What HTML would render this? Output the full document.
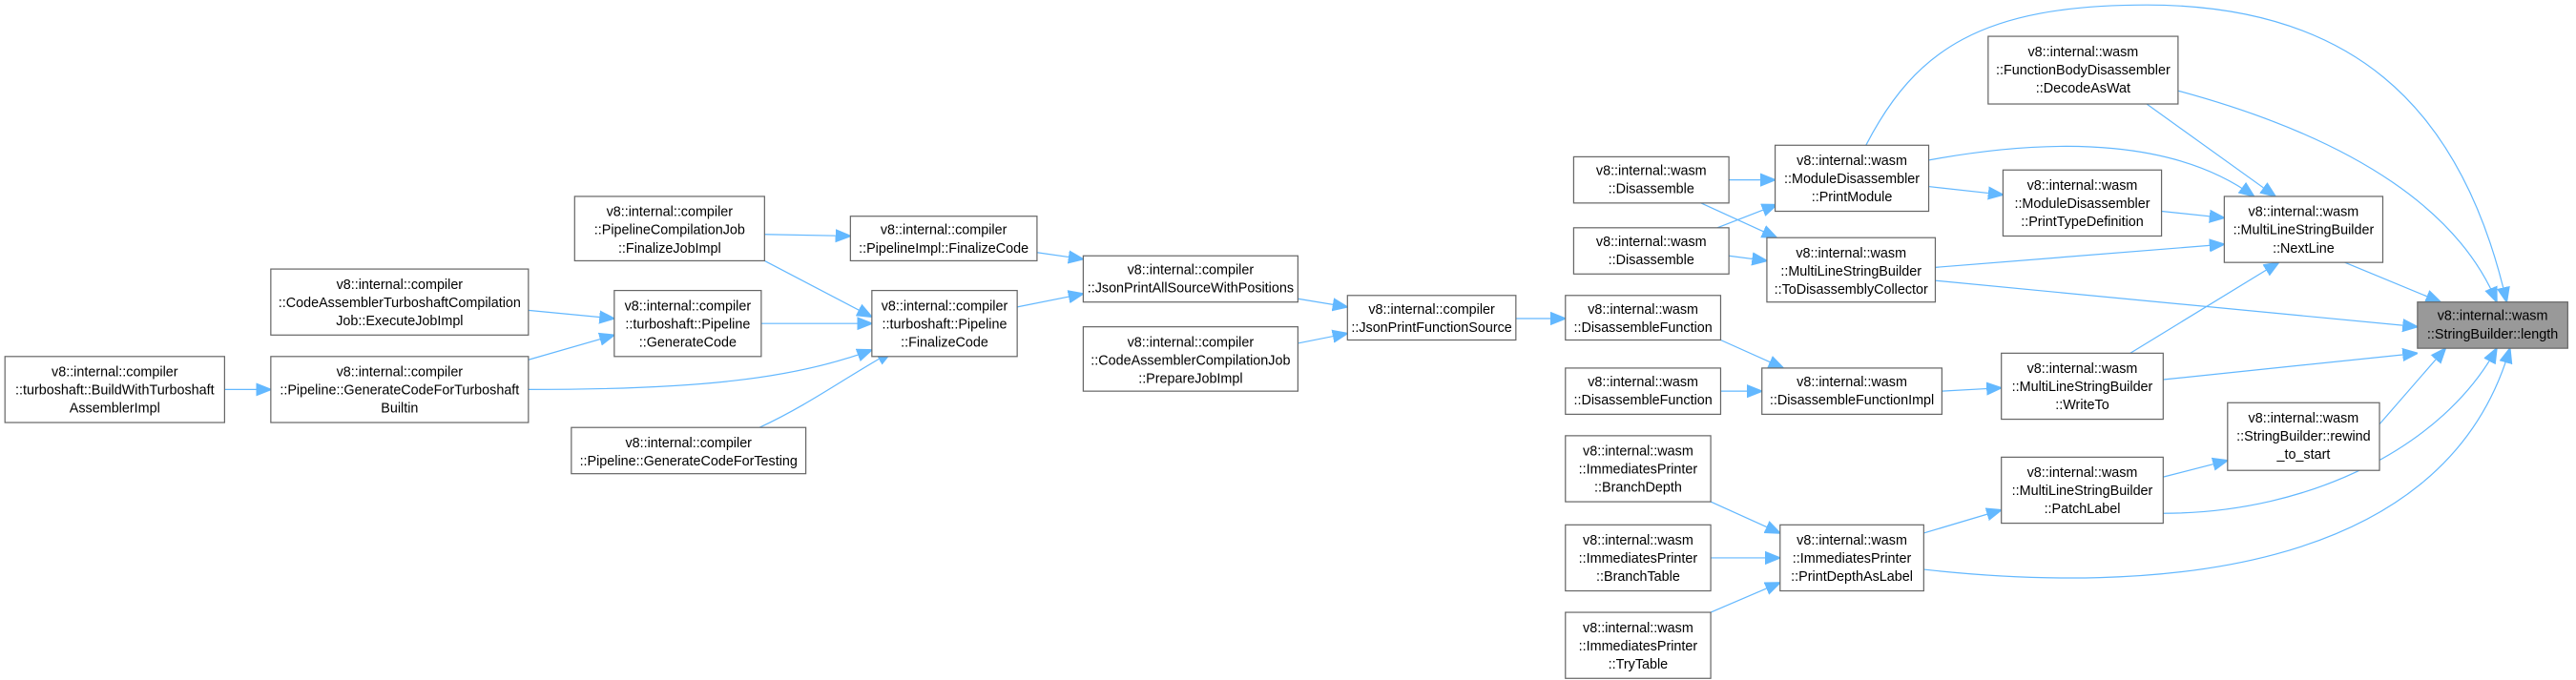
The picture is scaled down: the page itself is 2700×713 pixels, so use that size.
<!DOCTYPE html>
<html><head><meta charset="utf-8"><style>
html,body{margin:0;padding:0;background:#fff}
svg{display:block}
text{font-family:"Liberation Sans",sans-serif;font-size:8.3px;fill:#000}
.b{fill:#fff;stroke:#666;stroke-width:0.7}
.e{fill:none;stroke:#63b8ff;stroke-width:0.7}
</style></head><body>
<svg width="2700" height="713" viewBox="0 0 1560 412" preserveAspectRatio="none" xmlns="http://www.w3.org/2000/svg">
<defs><marker id="a" viewBox="0 0 10 10" refX="10" refY="5" markerWidth="9" markerHeight="9" markerUnits="userSpaceOnUse" orient="auto"><path d="M0,1 L10,5 L0,9 z" fill="#63b8ff" stroke="#63b8ff"/></marker></defs>
<g class="edges">
<path class="e" marker-end="url(#a)" d="M136,236 L164,236"/>
<path class="e" marker-end="url(#a)" d="M320,188 L372,193"/>
<path class="e" marker-end="url(#a)" d="M320,218 L372,203"/>
<path class="e" marker-end="url(#a)" d="M320,236 C420,236 480,230 528,212"/>
<path class="e" marker-end="url(#a)" d="M463,142 L515,143"/>
<path class="e" marker-end="url(#a)" d="M463,158 L528,192"/>
<path class="e" marker-end="url(#a)" d="M461,196 L528,196"/>
<path class="e" marker-end="url(#a)" d="M460,259 C490,245 510,230 540,213"/>
<path class="e" marker-end="url(#a)" d="M628,153 L656,157"/>
<path class="e" marker-end="url(#a)" d="M616,186 L656,178"/>
<path class="e" marker-end="url(#a)" d="M786,181 L816,186"/>
<path class="e" marker-end="url(#a)" d="M786,208 L816,202"/>
<path class="e" marker-end="url(#a)" d="M918,193 L948,193"/>
<path class="e" marker-end="url(#a)" d="M1042,206 L1080,223"/>
<path class="e" marker-end="url(#a)" d="M1042,237 L1067,237"/>
<path class="e" marker-end="url(#a)" d="M1047,109 L1075,109"/>
<path class="e" marker-end="url(#a)" d="M1030,123 L1076,144"/>
<path class="e" marker-end="url(#a)" d="M1040,138 L1076,124"/>
<path class="e" marker-end="url(#a)" d="M1047,155 L1070,158"/>
<path class="e" marker-end="url(#a)" d="M1168,113 L1213,118"/>
<path class="e" marker-end="url(#a)" d="M1168,97 C1250,82 1320,86 1365,119"/>
<path class="e" marker-end="url(#a)" d="M1130,88 C1160,30 1200,3 1300,3 C1420,3 1490,60 1518,183"/>
<path class="e" marker-end="url(#a)" d="M1172,162 L1347,148"/>
<path class="e" marker-end="url(#a)" d="M1172,170 L1464,198"/>
<path class="e" marker-end="url(#a)" d="M1176,237 L1212,235"/>
<path class="e" marker-end="url(#a)" d="M1300,63 L1378,119"/>
<path class="e" marker-end="url(#a)" d="M1319,55 C1430,85 1490,130 1512,183"/>
<path class="e" marker-end="url(#a)" d="M1309,128 L1347,132"/>
<path class="e" marker-end="url(#a)" d="M1290,214 L1380,159"/>
<path class="e" marker-end="url(#a)" d="M1310,230 L1464,214"/>
<path class="e" marker-end="url(#a)" d="M1310,289 L1349,279"/>
<path class="e" marker-end="url(#a)" d="M1310,311 C1400,311 1480,270 1512,211"/>
<path class="e" marker-end="url(#a)" d="M1441,257 L1481,211"/>
<path class="e" marker-end="url(#a)" d="M1420,159 L1478,183"/>
<path class="e" marker-end="url(#a)" d="M1036,304 L1078,323"/>
<path class="e" marker-end="url(#a)" d="M1036,338 L1078,338"/>
<path class="e" marker-end="url(#a)" d="M1036,371 L1078,353"/>
<path class="e" marker-end="url(#a)" d="M1165,323 L1212,309"/>
<path class="e" marker-end="url(#a)" d="M1165,345 C1300,360 1480,350 1520,211"/>
</g>
<g>
<rect class="b" x="3" y="216" width="133" height="40"/><text x="69.5" y="228" text-anchor="middle">v8::internal::compiler</text><text x="69.5" y="239" text-anchor="middle">::turboshaft::BuildWithTurboshaft</text><text x="69.5" y="250" text-anchor="middle">AssemblerImpl</text>
<rect class="b" x="164" y="163" width="156" height="40"/><text x="242" y="175" text-anchor="middle">v8::internal::compiler</text><text x="242" y="186" text-anchor="middle">::CodeAssemblerTurboshaftCompilation</text><text x="242" y="197" text-anchor="middle">Job::ExecuteJobImpl</text>
<rect class="b" x="164" y="216" width="156" height="40"/><text x="242" y="228" text-anchor="middle">v8::internal::compiler</text><text x="242" y="239" text-anchor="middle">::Pipeline::GenerateCodeForTurboshaft</text><text x="242" y="250" text-anchor="middle">Builtin</text>
<rect class="b" x="348" y="119" width="115" height="39"/><text x="405.5" y="131" text-anchor="middle">v8::internal::compiler</text><text x="405.5" y="142" text-anchor="middle">::PipelineCompilationJob</text><text x="405.5" y="153" text-anchor="middle">::FinalizeJobImpl</text>
<rect class="b" x="372" y="176" width="89" height="40"/><text x="416.5" y="188" text-anchor="middle">v8::internal::compiler</text><text x="416.5" y="199" text-anchor="middle">::turboshaft::Pipeline</text><text x="416.5" y="210" text-anchor="middle">::GenerateCode</text>
<rect class="b" x="346" y="259" width="142" height="28"/><text x="417" y="271" text-anchor="middle">v8::internal::compiler</text><text x="417" y="282" text-anchor="middle">::Pipeline::GenerateCodeForTesting</text>
<rect class="b" x="515" y="131" width="113" height="27"/><text x="571.5" y="142" text-anchor="middle">v8::internal::compiler</text><text x="571.5" y="153" text-anchor="middle">::PipelineImpl::FinalizeCode</text>
<rect class="b" x="528" y="176" width="88" height="40"/><text x="572" y="188" text-anchor="middle">v8::internal::compiler</text><text x="572" y="199" text-anchor="middle">::turboshaft::Pipeline</text><text x="572" y="210" text-anchor="middle">::FinalizeCode</text>
<rect class="b" x="656" y="155" width="130" height="28"/><text x="721" y="166" text-anchor="middle">v8::internal::compiler</text><text x="721" y="177" text-anchor="middle">::JsonPrintAllSourceWithPositions</text>
<rect class="b" x="656" y="198" width="130" height="39"/><text x="721" y="210" text-anchor="middle">v8::internal::compiler</text><text x="721" y="221" text-anchor="middle">::CodeAssemblerCompilationJob</text><text x="721" y="232" text-anchor="middle">::PrepareJobImpl</text>
<rect class="b" x="816" y="179" width="102" height="27"/><text x="867" y="190" text-anchor="middle">v8::internal::compiler</text><text x="867" y="201" text-anchor="middle">::JsonPrintFunctionSource</text>
<rect class="b" x="948" y="179" width="94" height="27"/><text x="995" y="190" text-anchor="middle">v8::internal::wasm</text><text x="995" y="201" text-anchor="middle">::DisassembleFunction</text>
<rect class="b" x="948" y="223" width="94" height="28"/><text x="995" y="234" text-anchor="middle">v8::internal::wasm</text><text x="995" y="245" text-anchor="middle">::DisassembleFunction</text>
<rect class="b" x="953" y="95" width="94" height="28"/><text x="1000" y="106" text-anchor="middle">v8::internal::wasm</text><text x="1000" y="117" text-anchor="middle">::Disassemble</text>
<rect class="b" x="953" y="138" width="94" height="28"/><text x="1000" y="149" text-anchor="middle">v8::internal::wasm</text><text x="1000" y="160" text-anchor="middle">::Disassemble</text>
<rect class="b" x="1075" y="88" width="93" height="40"/><text x="1121.5" y="100" text-anchor="middle">v8::internal::wasm</text><text x="1121.5" y="111" text-anchor="middle">::ModuleDisassembler</text><text x="1121.5" y="122" text-anchor="middle">::PrintModule</text>
<rect class="b" x="1070" y="144" width="102" height="39"/><text x="1121" y="156" text-anchor="middle">v8::internal::wasm</text><text x="1121" y="167" text-anchor="middle">::MultiLineStringBuilder</text><text x="1121" y="178" text-anchor="middle">::ToDisassemblyCollector</text>
<rect class="b" x="1067" y="223" width="109" height="28"/><text x="1121.5" y="234" text-anchor="middle">v8::internal::wasm</text><text x="1121.5" y="245" text-anchor="middle">::DisassembleFunctionImpl</text>
<rect class="b" x="1204" y="22" width="115" height="41"/><text x="1261.5" y="34" text-anchor="middle">v8::internal::wasm</text><text x="1261.5" y="45" text-anchor="middle">::FunctionBodyDisassembler</text><text x="1261.5" y="56" text-anchor="middle">::DecodeAsWat</text>
<rect class="b" x="1213" y="103" width="96" height="40"/><text x="1261" y="115" text-anchor="middle">v8::internal::wasm</text><text x="1261" y="126" text-anchor="middle">::ModuleDisassembler</text><text x="1261" y="137" text-anchor="middle">::PrintTypeDefinition</text>
<rect class="b" x="1212" y="214" width="98" height="40"/><text x="1261" y="226" text-anchor="middle">v8::internal::wasm</text><text x="1261" y="237" text-anchor="middle">::MultiLineStringBuilder</text><text x="1261" y="248" text-anchor="middle">::WriteTo</text>
<rect class="b" x="1212" y="277" width="98" height="40"/><text x="1261" y="289" text-anchor="middle">v8::internal::wasm</text><text x="1261" y="300" text-anchor="middle">::MultiLineStringBuilder</text><text x="1261" y="311" text-anchor="middle">::PatchLabel</text>
<rect class="b" x="1347" y="119" width="96" height="40"/><text x="1395" y="131" text-anchor="middle">v8::internal::wasm</text><text x="1395" y="142" text-anchor="middle">::MultiLineStringBuilder</text><text x="1395" y="153" text-anchor="middle">::NextLine</text>
<rect class="b" x="1349" y="244" width="92" height="41"/><text x="1395" y="256" text-anchor="middle">v8::internal::wasm</text><text x="1395" y="267" text-anchor="middle">::StringBuilder::rewind</text><text x="1395" y="278" text-anchor="middle">_to_start</text>
<rect class="b" x="948" y="264" width="88" height="40"/><text x="992" y="276" text-anchor="middle">v8::internal::wasm</text><text x="992" y="287" text-anchor="middle">::ImmediatesPrinter</text><text x="992" y="298" text-anchor="middle">::BranchDepth</text>
<rect class="b" x="948" y="318" width="88" height="40"/><text x="992" y="330" text-anchor="middle">v8::internal::wasm</text><text x="992" y="341" text-anchor="middle">::ImmediatesPrinter</text><text x="992" y="352" text-anchor="middle">::BranchTable</text>
<rect class="b" x="948" y="371" width="88" height="40"/><text x="992" y="383" text-anchor="middle">v8::internal::wasm</text><text x="992" y="394" text-anchor="middle">::ImmediatesPrinter</text><text x="992" y="405" text-anchor="middle">::TryTable</text>
<rect class="b" x="1078" y="318" width="87" height="40"/><text x="1121.5" y="330" text-anchor="middle">v8::internal::wasm</text><text x="1121.5" y="341" text-anchor="middle">::ImmediatesPrinter</text><text x="1121.5" y="352" text-anchor="middle">::PrintDepthAsLabel</text>
<rect x="1464" y="183" width="91" height="28" fill="#999" stroke="#666" stroke-width="0.7"/><text x="1509.5" y="194" text-anchor="middle">v8::internal::wasm</text><text x="1509.5" y="205" text-anchor="middle">::StringBuilder::length</text>
</g>
</svg>
</body></html>
